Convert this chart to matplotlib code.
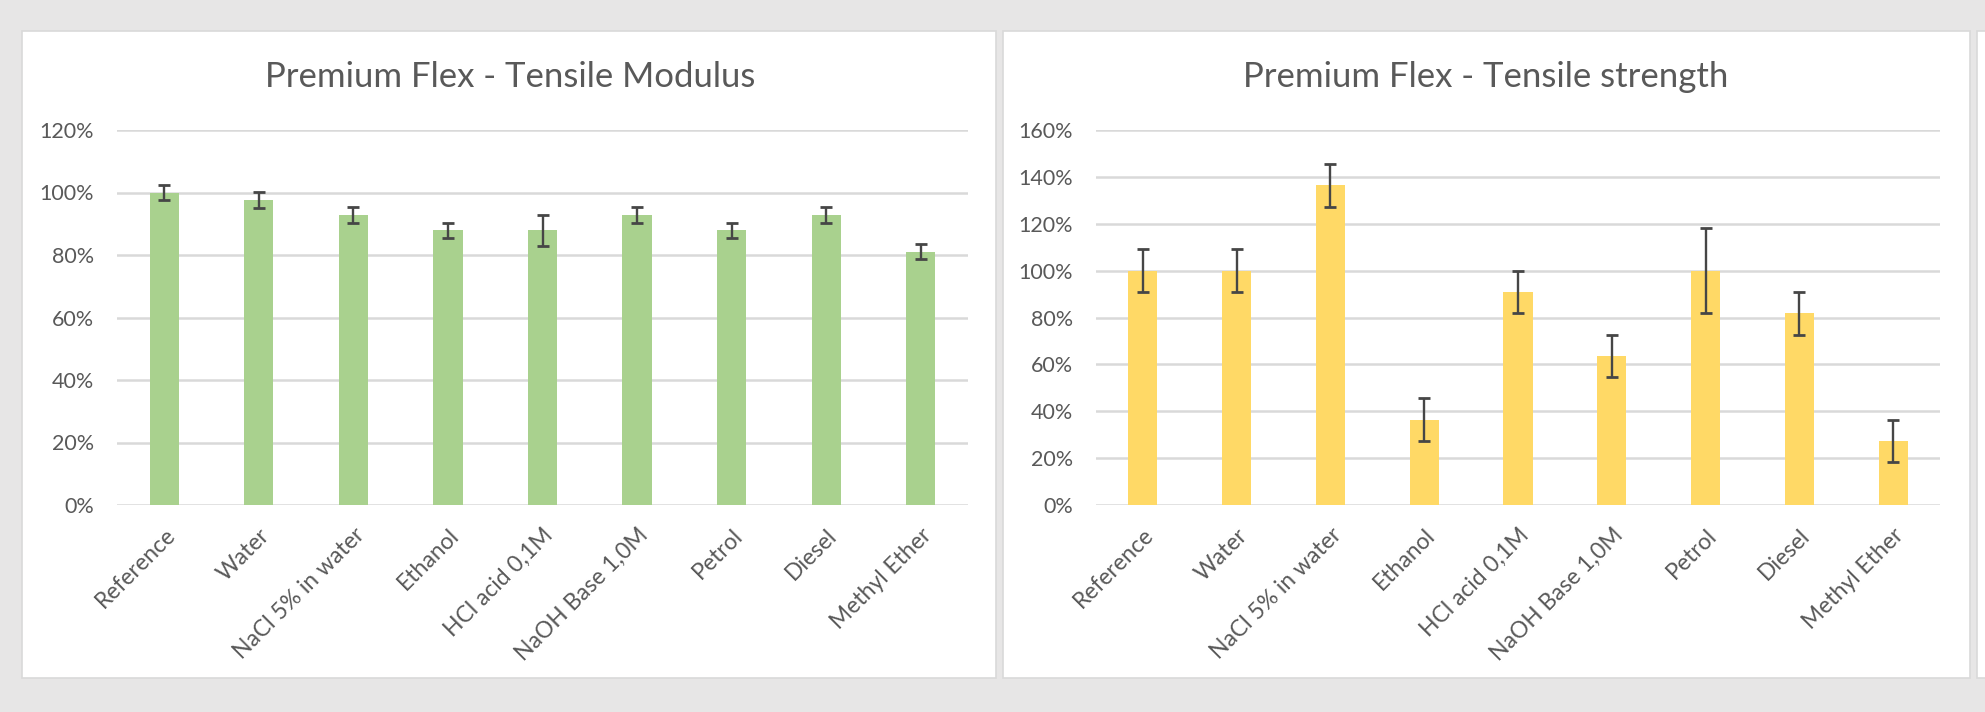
import matplotlib.pyplot as plt
from matplotlib.patches import Rectangle
from matplotlib.ticker import FuncFormatter

plt.rcParams['font.family'] = ['Lato', 'DejaVu Sans']

# categories / values (in %)
categories = ["Reference", "Water", "NaCl 5% in water", "Ethanol", "HCl acid 0,1M",
              "NaOH Base 1,0M", "Petrol", "Diesel", "Methyl Ether"]
modulus = [100, 97.6, 92.8, 87.9, 87.9, 92.8, 87.9, 92.8, 81.1]
modulus_err = [2.5, 2.5, 2.5, 2.4, 4.9, 2.5, 2.4, 2.5, 2.3]
strength = [100, 100, 136.4, 36.4, 90.9, 63.6, 100, 81.8, 27.3]
strength_err = [9.1, 9.1, 9.1, 9.1, 9.1, 9.1, 18.2, 9.1, 9.1]

textcol = '#595959'
gridcol = '#d9d9d9'

fig = plt.figure(figsize=(19.85, 7.12), dpi=100)
fig.patch.set_facecolor('#e7e6e6')

W, H = 1985, 712
# white chart cards (behind the axes)
for x0, x1 in [(22, 996), (1003, 1970), (1977, 2000)]:
    fig.patches.append(Rectangle((x0 / W, 1 - 678 / H), (x1 - x0) / W, (678 - 31) / H,
                                 transform=fig.transFigure, facecolor='white',
                                 edgecolor=gridcol, linewidth=1.2, zorder=-5))


def draw(rect, values, errs, color, ymax, title, title_x):
    ax = fig.add_axes(rect)
    ax.set_facecolor('none')
    x = range(len(categories))
    ax.bar(x, values, width=0.31, color=color, zorder=2)
    ax.errorbar(x, values, yerr=errs, fmt='none', ecolor='#464646', elinewidth=1.7,
                capsize=4.5, capthick=2, zorder=3)
    ax.set_ylim(0, ymax)
    ax.set_xlim(-0.5, len(categories) - 0.5)
    ax.set_yticks(range(0, ymax + 1, 20))
    ax.yaxis.set_major_formatter(FuncFormatter(lambda v, p: '%d%%' % v))
    ax.grid(axis='y', color=gridcol, linewidth=1.8, zorder=1)
    for s in ax.spines.values():
        s.set_visible(False)
    ax.tick_params(length=0, labelsize=15.5, colors=textcol)
    ax.tick_params(axis='y', pad=16.5)
    ax.set_xticks(list(x))
    ax.set_xticklabels(categories, rotation=45, ha='right', va='top',
                       rotation_mode='anchor', fontsize=16.5, color=textcol)
    ax.tick_params(axis='x', pad=14)
    fig.text(title_x / W, 1 - 77 / H, title, ha='center', va='center',
             fontsize=25, color=textcol)
    return ax


draw([117 / W, 1 - 505 / H, (968 - 117) / W, (505 - 130) / H], modulus, modulus_err,
     '#a9d18e', 120, "Premium Flex - Tensile Modulus", 510)
draw([1096 / W, 1 - 505 / H, (1940 - 1096) / W, (505 - 130) / H], strength, strength_err,
     '#ffd966', 160, "Premium Flex - Tensile strength", 1486)

plt.savefig('out.png', dpi=100, facecolor=fig.get_facecolor())
